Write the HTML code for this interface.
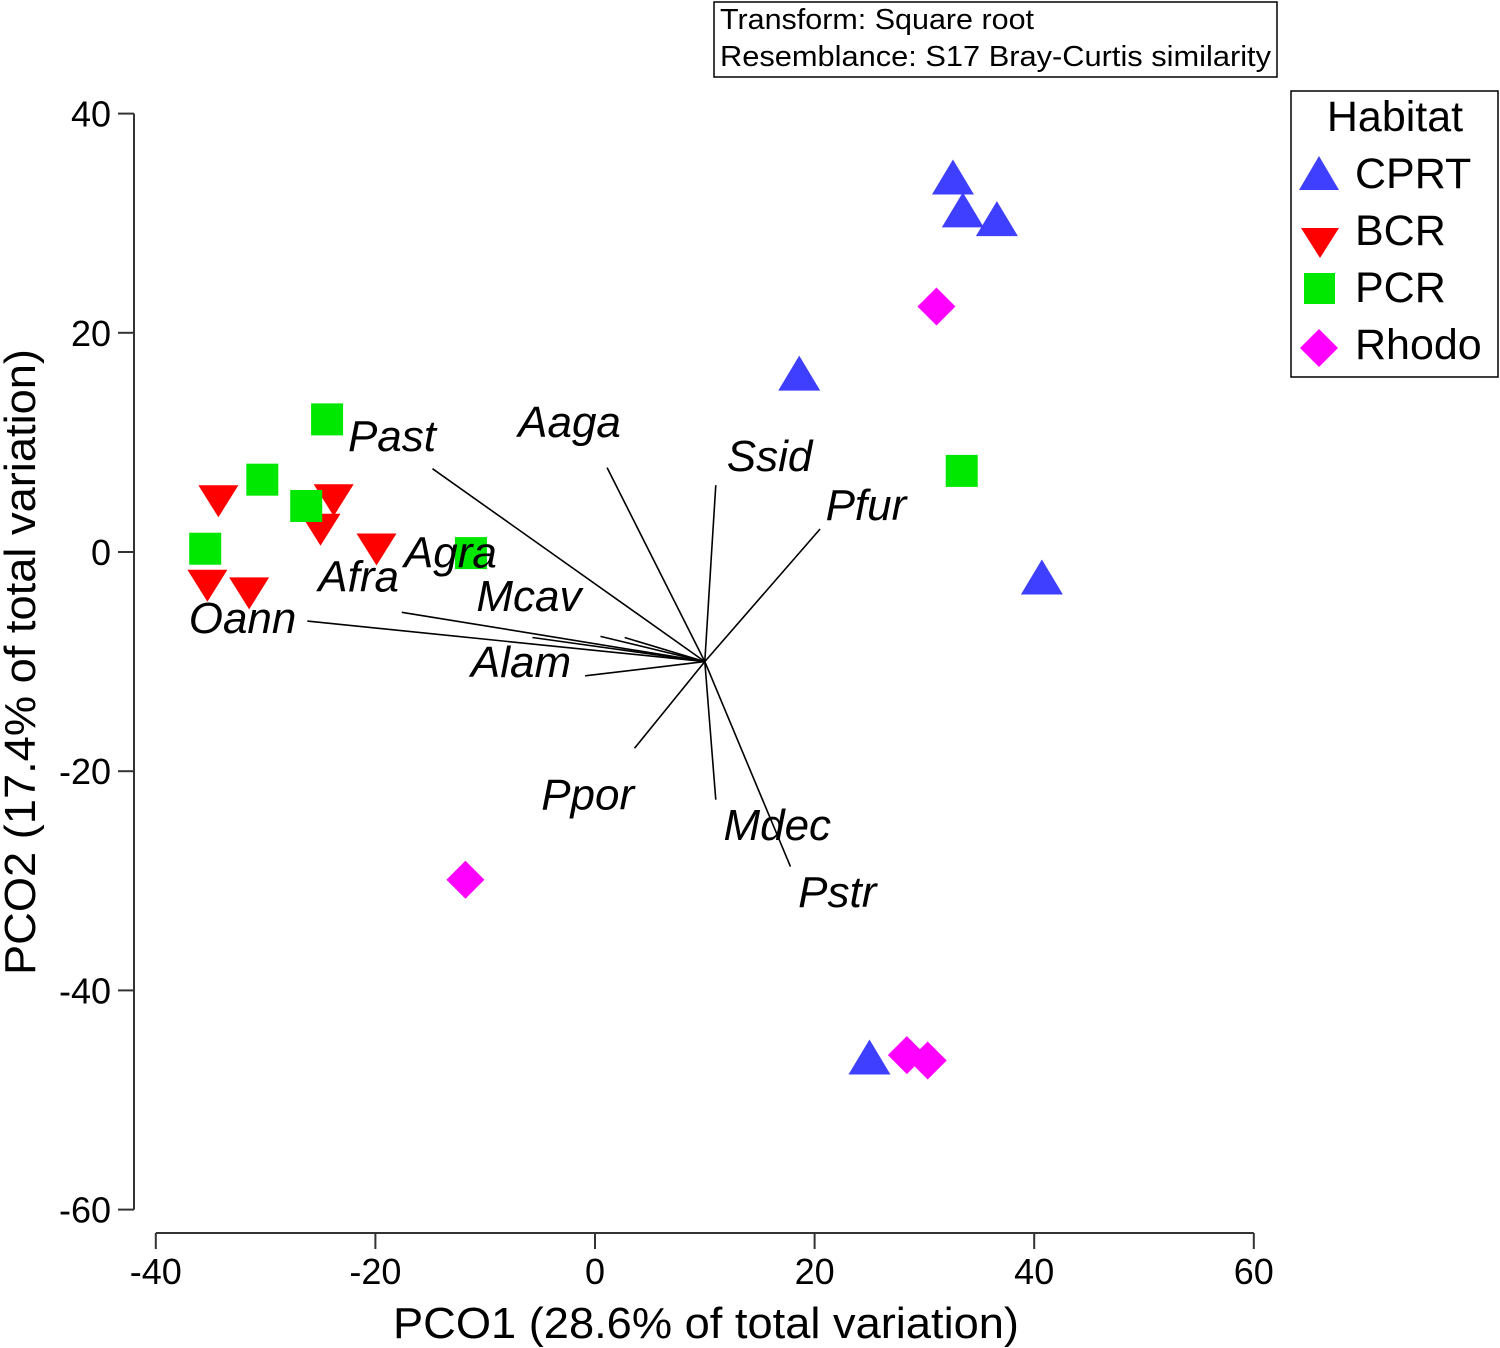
<!DOCTYPE html>
<html><head><meta charset="utf-8"><style>
html,body{margin:0;padding:0;background:#fff;}
svg{display:block;font-family:"Liberation Sans",Arial,sans-serif;}
</style></head><body>
<svg id="chart" width="1500" height="1348" viewBox="0 0 1500 1348">
<g>
<rect x="714" y="2" width="563" height="75" fill="#fff" stroke="#000" stroke-width="1.5"/>
<text x="720" y="29" font-size="28.5" textLength="314" lengthAdjust="spacingAndGlyphs">Transform: Square root</text>
<text x="720" y="66" font-size="28.5" textLength="551" lengthAdjust="spacingAndGlyphs">Resemblance: S17 Bray-Curtis similarity</text>
</g>
<g id="axes"></g>
<g id="points"></g>
<g id="vectors"></g>
<g>
<rect x="1291" y="91" width="207" height="286" fill="#fff" stroke="#000" stroke-width="1.5"/>
<text x="1395" y="131" font-size="43" text-anchor="middle">Habitat</text>
<g><polygon points="1319,156 1339,190 1299,190" fill="#3f3fff"/><text x="1355" y="188" font-size="43">CPRT</text></g>
<g><polygon points="1301,228 1339,228 1320,258" fill="#ff0000"/><text x="1355" y="245" font-size="43">BCR</text></g>
<g><rect x="1304" y="273" width="31" height="31" fill="#00e800"/><text x="1355" y="302" font-size="43">PCR</text></g>
<g><polygon points="1319,329 1338,348 1319,367 1300,348" fill="#ff00ff"/><text x="1355" y="359" font-size="43">Rhodo</text></g>
</g>
<text x="706" y="1338" font-size="44" text-anchor="middle" textLength="626" lengthAdjust="spacingAndGlyphs">PCO1 (28.6% of total variation)</text>
<text transform="translate(35,662) rotate(-90)" font-size="44" text-anchor="middle" textLength="626" lengthAdjust="spacingAndGlyphs">PCO2 (17.4% of total variation)</text>
</svg>
<script>
const xTicks=[-40,-20,0,20,40,60];
const yTicks=[40,20,0,-20,-40,-60];
const cprtX=[32.6,33.5,36.6,18.6,40.7,25.0];
const cprtY=[33.9,30.9,30.1,16.0,-2.6,-46.4];
const bcrX=[-34.3,-23.8,-25.0,-19.9,-35.3,-31.5];
const bcrY=[4.9,5.0,2.3,0.5,-2.8,-3.5];
const pcrX=[-24.4,-30.3,-26.3,-35.5,-11.3,33.4];
const pcrY=[12.1,6.6,4.2,0.3,-0.1,7.4];
const rhodoX=[31.1,-11.8,28.4,30.3];
const rhodoY=[22.4,-29.9,-45.9,-46.4];
const vecOrigin=[10.0,-10.0];
const vecNames=["Past","Aaga","Ssid","Pfur","Agra","Mcav","Afra","Oann","Alam","Ppor","Mdec","Pstr","Mlin"];
const vecX=[-14.8,1.1,11.0,20.5,2.7,0.5,-17.6,-26.2,-0.9,3.6,11.0,17.8,-5.7];
const vecY=[7.6,7.7,6.1,2.1,-7.8,-7.7,-5.5,-6.3,-11.3,-17.9,-22.6,-28.7,-7.8];
const labelNames=["Past","Aaga","Ssid","Pfur","Agra","Mcav","Afra","Oann","Alam","Ppor","Mdec","Pstr"];
const labelX=[-22.5,-7.0,12.0,21.0,-17.4,-10.8,-25.2,-37.0,-11.3,-4.9,11.7,18.5];
const labelY=[9.2,10.5,7.4,2.9,-1.4,-5.4,-3.6,-7.4,-11.4,-23.5,-26.3,-32.4];

const NS="http://www.w3.org/2000/svg";
const X=v=>595+v*10.98;
const Y=v=>552-v*10.96;
function mk(tag,attrs,parent,txt){const e=document.createElementNS(NS,tag);for(const k in attrs)e.setAttribute(k,attrs[k]);if(txt!==undefined)e.textContent=txt;parent.appendChild(e);return e;}
const axes=document.getElementById('axes');
let a=mk('line',{x1:134,y1:Y(40),x2:134,y2:Y(-60),stroke:'#333','stroke-width':2},axes);


a=mk('line',{x1:X(-40),y1:1233,x2:X(60),y2:1233,stroke:'#333','stroke-width':2},axes);


yTicks.forEach(t=>{
  mk('line',{x1:118,y1:Y(t),x2:134,y2:Y(t),stroke:'#333','stroke-width':2},axes);
  const l=mk('text',{x:111,y:Y(t)+13,'font-size':36,'text-anchor':'end'},axes,String(t));
  
  
});
xTicks.forEach(t=>{
  mk('line',{x1:X(t),y1:1233,x2:X(t),y2:1249,stroke:'#333','stroke-width':2},axes);
  const l=mk('text',{x:X(t),y:1284,'font-size':36,'text-anchor':'middle'},axes,String(t));
  
  
});
const vg=document.getElementById('vectors');
vecX.forEach((vx,i)=>{
  const l=mk('line',{x1:X(vecOrigin[0]),y1:Y(vecOrigin[1]),x2:X(vx),y2:Y(vecY[i]),stroke:'#000','stroke-width':1.6},vg);
  
  
});
labelX.forEach((lx,i)=>{
  const t=mk('text',{x:X(lx),y:Y(labelY[i]),'font-size':44,'font-style':'italic'},vg,labelNames[i]);
  
  
});
const pg=document.getElementById('points');
cprtX.forEach((x,i)=>{const cx=X(x),cy=Y(cprtY[i]);
  const p=mk('polygon',{points:`${cx},${cy-21} ${cx+21},${cy+14} ${cx-21},${cy+14}`,fill:'#3f3fff'},pg);
  
  });
bcrX.forEach((x,i)=>{const cx=X(x),cy=Y(bcrY[i]);
  const p=mk('polygon',{points:`${cx-20},${cy-13} ${cx+20},${cy-13} ${cx},${cy+19}`,fill:'#ff0000'},pg);
  
  });
pcrX.forEach((x,i)=>{const cx=X(x),cy=Y(pcrY[i]);
  const p=mk('rect',{x:cx-16,y:cy-16,width:32,height:32,fill:'#00e800'},pg);
  
  });
rhodoX.forEach((x,i)=>{const cx=X(x),cy=Y(rhodoY[i]);
  const p=mk('polygon',{points:`${cx},${cy-19} ${cx+19},${cy} ${cx},${cy+19} ${cx-19},${cy}`,fill:'#ff00ff'},pg);
  
  });
</script>
</body></html>
